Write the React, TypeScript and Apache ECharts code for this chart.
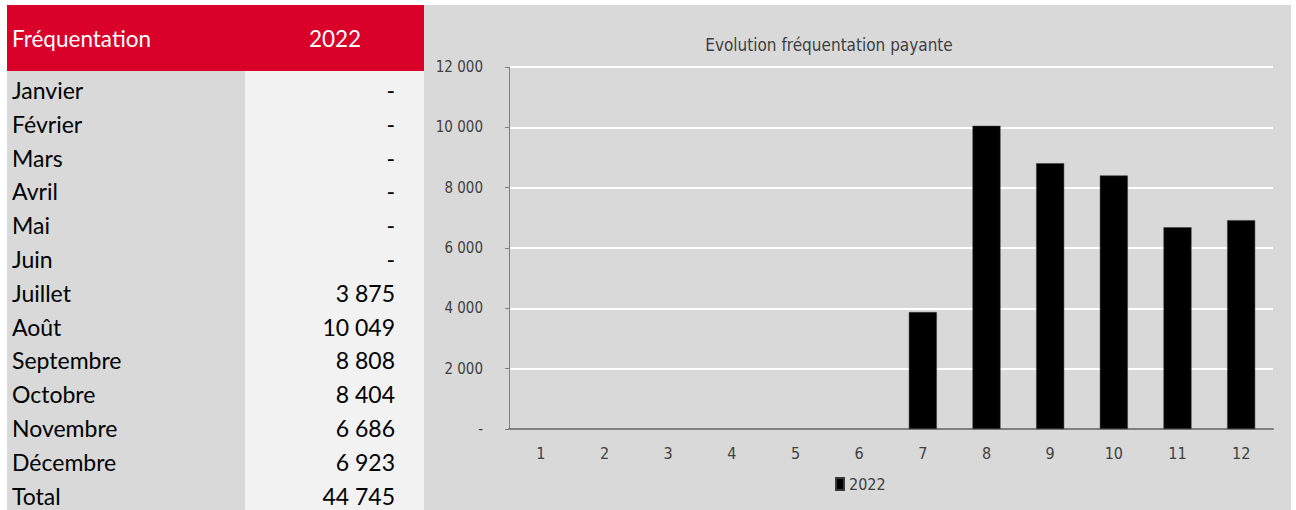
import React, { useEffect, useRef } from "react";
import * as echarts from "echarts";

const months = ["Janvier", "Février", "Mars", "Avril", "Mai", "Juin", "Juillet", "Août", "Septembre", "Octobre", "Novembre", "Décembre"];
const monthNumbers = ["1", "2", "3", "4", "5", "6", "7", "8", "9", "10", "11", "12"];
const values2022: (number | null)[] = [null, null, null, null, null, null, 3875, 10049, 8808, 8404, 6686, 6923];
const yTicks = [0, 2000, 4000, 6000, 8000, 10000, 12000];
const headerLabel = "Fréquentation";
const yearLabel = "2022";
const totalLabel = "Total";
const chartTitle = "Evolution fréquentation payante";

const fmt = (v: number | null) => {
  if (v === null || v === 0) return "-";
  return String(Math.round(v)).replace(/\B(?=(\d{3})+(?!\d))/g, " ");
};

const TABLE_FONT = "Lato, 'Noto Sans', sans-serif";
const CHART_FONT = "'DejaVu Sans Condensed', 'Liberation Sans Narrow', 'Noto Sans', sans-serif";

export default function App() {
  const ref = useRef<HTMLDivElement>(null);
  useEffect(() => {
    if (!ref.current) return;
    const chart = echarts.init(ref.current, undefined, { renderer: "svg" });

    const rowTop = 71;
    const rowH = 33.8;
    const rowLabels = [...months, totalLabel];
    const total = values2022.reduce((a, b) => (a as number) + (b || 0), 0) as number;
    const rowValues = [...values2022, total];

    const graphics: any[] = [
      { type: "rect", shape: { x: 0, y: 0, width: 1296, height: 5 }, style: { fill: "#ffffff" }, silent: true },
      { type: "rect", shape: { x: 0, y: 0, width: 7, height: 510 }, style: { fill: "#ffffff" }, silent: true },
      { type: "rect", shape: { x: 1291, y: 0, width: 5, height: 510 }, style: { fill: "#ffffff" }, silent: true },
      { type: "rect", shape: { x: 7, y: 71, width: 238, height: 439 }, style: { fill: "#d9d9d9" }, silent: true },
      { type: "rect", shape: { x: 245, y: 71, width: 179, height: 439 }, style: { fill: "#f2f2f2" }, silent: true },
      { type: "rect", shape: { x: 7, y: 5, width: 417, height: 66 }, style: { fill: "#d9002a" }, silent: true },
      {
        type: "text", x: 12, y: 38,
        style: { text: headerLabel, fill: "#ffffff", font: `22.5px ${TABLE_FONT}`, textVerticalAlign: "middle", textAlign: "left" },
      },
      {
        type: "text", x: 335, y: 38,
        style: { text: yearLabel, fill: "#ffffff", font: `22.5px ${TABLE_FONT}`, textVerticalAlign: "middle", textAlign: "center" },
      },
    ];
    rowLabels.forEach((lab, i) => {
      const cy = rowTop + rowH * i + rowH / 2 + 2;
      graphics.push({
        type: "text", x: 12, y: cy,
        style: { text: lab, fill: "#000000", font: `23px ${TABLE_FONT}`, textVerticalAlign: "middle", textAlign: "left" },
      });
      graphics.push({
        type: "text", x: 395, y: cy,
        style: { text: fmt(rowValues[i]), fill: "#000000", font: `23px ${TABLE_FONT}`, textVerticalAlign: "middle", textAlign: "right" },
      });
    });

    chart.setOption({
      animation: false,
      backgroundColor: "#d9d9d9",
      title: {
        text: chartTitle,
        left: 824,
        top: 31,
        textAlign: "center",
        textStyle: { color: "#404040", fontSize: 17, fontWeight: "normal", fontFamily: CHART_FONT },
      },
      legend: {
        data: [yearLabel],
        left: 830,
        top: 471,
        icon: "rect",
        itemWidth: 8,
        itemHeight: 12,
        textStyle: { color: "#404040", fontSize: 16, fontFamily: CHART_FONT },
      },
      grid: { left: 509, right: 23, top: 67, bottom: 81, containLabel: false },
      xAxis: {
        type: "category",
        data: monthNumbers,
        axisLine: { show: true, lineStyle: { color: "#7f7f7f", width: 2 } },
        axisTick: { show: false },
        axisLabel: { color: "#404040", fontSize: 16, margin: 16, fontFamily: CHART_FONT },
        splitLine: { show: false },
      },
      yAxis: {
        type: "value",
        min: yTicks[0],
        max: yTicks[yTicks.length - 1],
        interval: 2000,
        axisLine: { show: true, lineStyle: { color: "#7f7f7f", width: 1 } },
        axisTick: { show: true, length: 4, lineStyle: { color: "#7f7f7f" } },
        axisLabel: { color: "#404040", fontSize: 15, margin: 26, fontFamily: CHART_FONT, formatter: (v: number) => fmt(v) },
        splitLine: { show: true, lineStyle: { color: "#ffffff", width: 2 } },
      },
      series: [
        {
          name: yearLabel,
          type: "bar",
          data: values2022,
          barWidth: 28,
          itemStyle: { color: "#000000", borderColor: "#3a3a3a", borderWidth: 0.5 },
        },
      ],
      graphic: graphics,
    });
    return () => chart.dispose();
  }, []);
  return (
    <div
      ref={ref}
      style={{ position: "fixed", left: 0, top: 0, width: 1296, height: 510 }}
    />
  );
}
